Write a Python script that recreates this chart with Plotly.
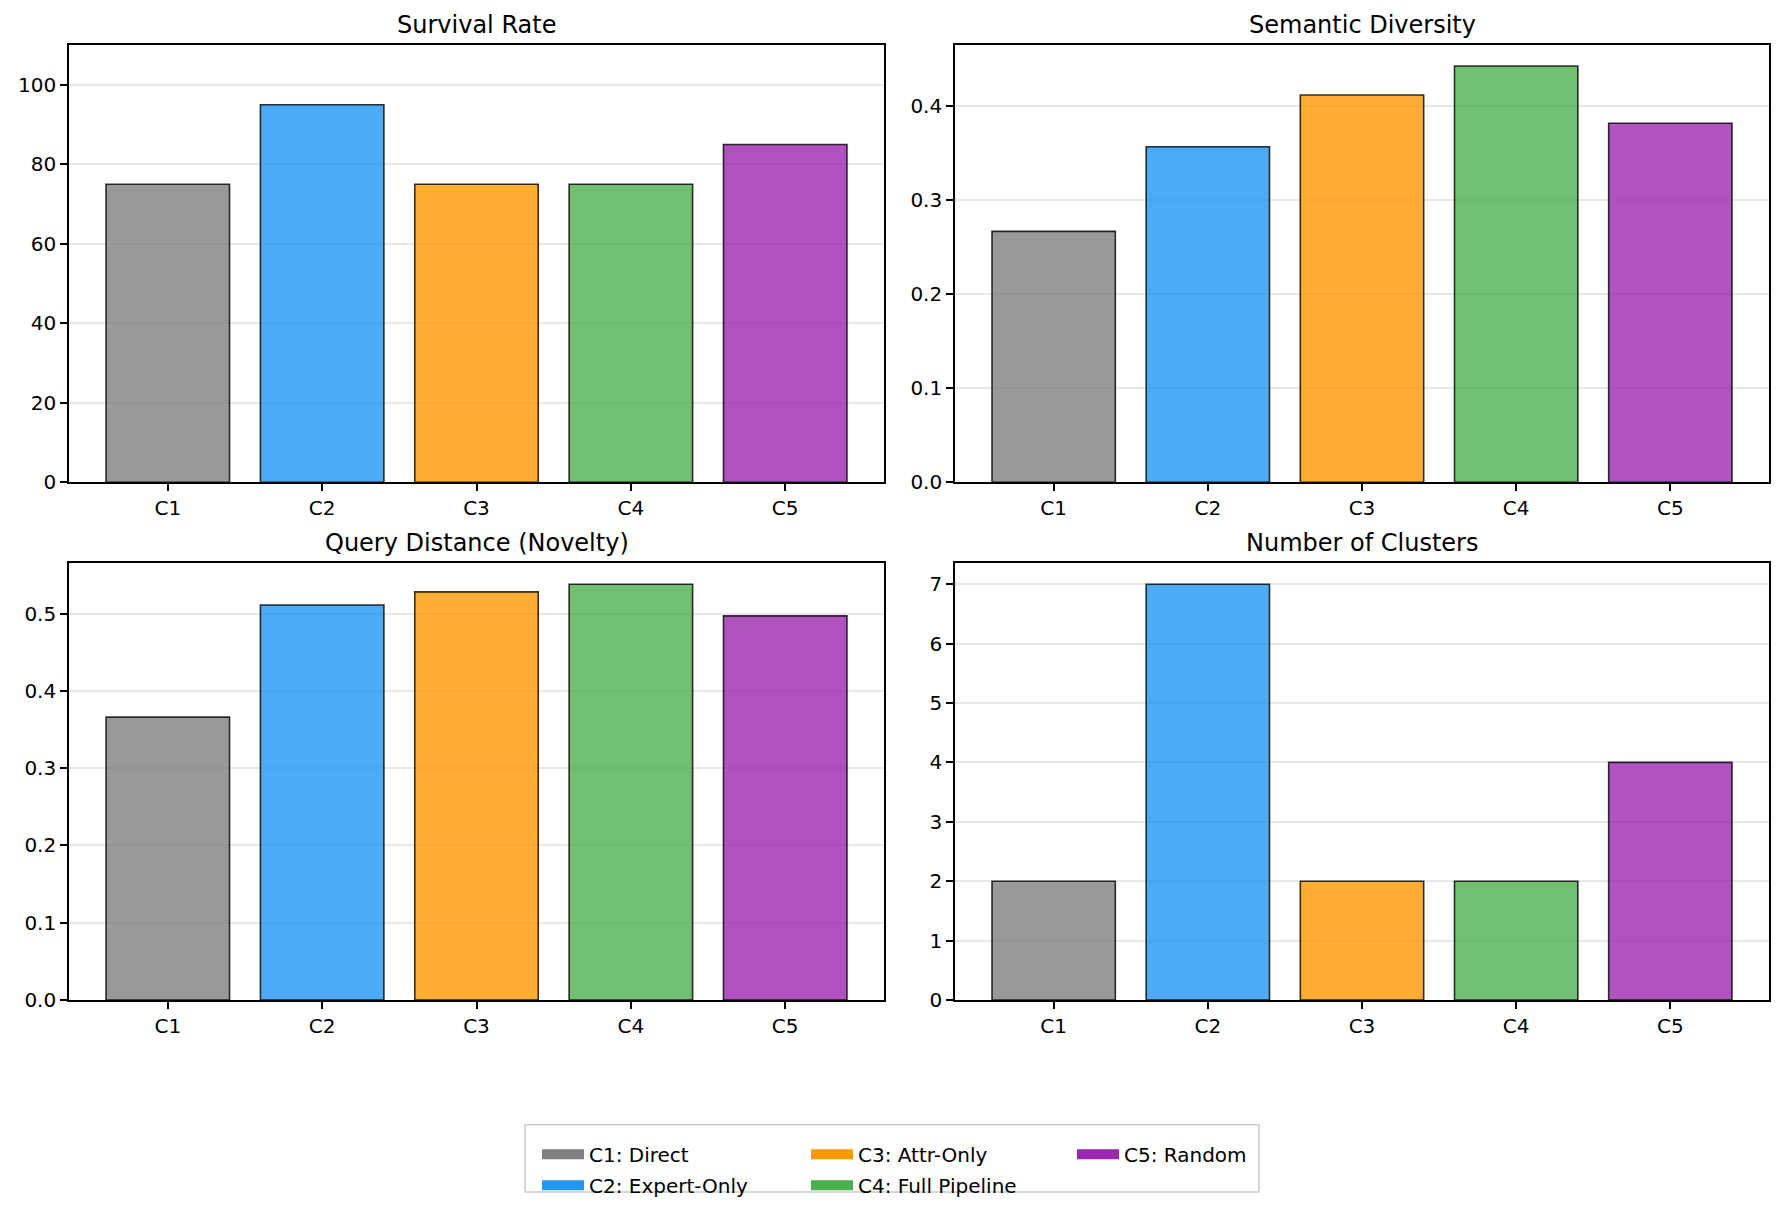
import plotly.graph_objects as go

categories = ["C1", "C2", "C3", "C4", "C5"]
legend_names = ["C1: Direct", "C2: Expert-Only", "C3: Attr-Only", "C4: Full Pipeline", "C5: Random"]
base_colors = ["#808080", "#2196F3", "#FF9800", "#4CAF50", "#9C27B0"]

survival_rate = [75, 95, 75, 75, 85]
semantic_diversity = [0.267, 0.357, 0.412, 0.443, 0.382]
query_distance = [0.366, 0.511, 0.528, 0.538, 0.497]
num_clusters = [2, 7, 2, 2, 4]

panels = [
    ("Survival Rate", survival_rate, [0, 110], [0, 20, 40, 60, 80, 100], None),
    ("Semantic Diversity", semantic_diversity, None, [0, 0.1, 0.2, 0.3, 0.4], ".1f"),
    ("Query Distance (Novelty)", query_distance, None, [0, 0.1, 0.2, 0.3, 0.4, 0.5], ".1f"),
    ("Number of Clusters", num_clusters, None, [0, 1, 2, 3, 4, 5, 6, 7], None),
]

OFF = 8  # page body margin
W, H = 1785 - 2 * OFF, 1219 - 2 * OFF


def px(x):
    return (x - OFF) / W


def py(y):
    return 1 - (y - OFF) / H


xdoms = [[px(69), px(884)], [px(955), px(1769)]]
ydoms = [[py(487), py(45.5)], [py(1010), py(569)]]


def rgba(hexc, a):
    h = hexc.lstrip("#")
    r, g, b = int(h[0:2], 16), int(h[2:4], 16), int(h[4:6], 16)
    return f"rgba({r},{g},{b},{a})"


fig = go.Figure()
layout = {}
annotations = []
font = "DejaVu Sans, Arial, sans-serif"

for i, (title, vals, yr, yt, fmt) in enumerate(panels):
    n = i + 1
    xa = "x" if n == 1 else f"x{n}"
    ya = "y" if n == 1 else f"y{n}"
    for c, v, col in zip(categories, vals, base_colors):
        fig.add_trace(go.Bar(
            x=[c], y=[v], width=0.8, xaxis=xa, yaxis=ya, showlegend=False,
            marker=dict(color=rgba(col, 0.8), line=dict(color="rgba(0,0,0,0.8)", width=1.6)),
        ))
    row, colidx = divmod(i, 2)
    xd, yd = xdoms[colidx], ydoms[row]
    if yr is None:
        yr = [0, max(vals) * 1.05]
    axis_common = dict(
        showline=True, linecolor="black", linewidth=1.6, mirror=True,
        ticks="outside", ticklen=7, tickwidth=1.6, tickcolor="black",
        tickfont=dict(size=20, color="black", family=font),
        zeroline=False, layer="above traces",
    )
    layout["xaxis" if n == 1 else f"xaxis{n}"] = dict(
        domain=xd, anchor=ya, type="category", categoryorder="array", categoryarray=categories,
        range=[-0.64, 4.64], showgrid=False, **axis_common)
    layout["yaxis" if n == 1 else f"yaxis{n}"] = dict(
        domain=yd, anchor=xa, range=yr, tickvals=yt, tickformat=fmt,
        showgrid=True, gridcolor="rgba(176,176,176,0.3)", gridwidth=1.6, **axis_common)
    annotations.append(dict(
        text=title, xref="paper", yref="paper", x=(xd[0] + xd[1]) / 2, y=yd[1],
        xanchor="center", yanchor="bottom", yshift=4, showarrow=False,
        font=dict(size=24, color="black", family=font)))

# legend-only entries (full colour patches), split into three columns
legend_ids = ["legend", "legend", "legend2", "legend2", "legend3"]
for name, col, lid in zip(legend_names, base_colors, legend_ids):
    fig.add_trace(go.Scatter(
        x=[None], y=[None], name=name, xaxis="x", yaxis="y", legend=lid, mode="lines",
        legendgroup=name, line=dict(color=col, width=15), showlegend=True))

leg_common = dict(orientation="v", yanchor="top", xanchor="left", y=py(1146),
                  bgcolor="rgba(0,0,0,0)", borderwidth=0, tracegroupgap=2, itemwidth=42,
                  font=dict(size=20, color="black", family=font))
layout["legend"] = dict(x=px(593 - 56), **leg_common)
layout["legend2"] = dict(x=px(862 - 56), **leg_common)
layout["legend3"] = dict(x=px(1128 - 56), **leg_common)

fig.update_layout(
    width=W, height=H, margin=dict(l=0, r=0, t=0, b=0),
    paper_bgcolor="white", plot_bgcolor="white", barmode="overlay",
    annotations=annotations,
    shapes=[dict(type="rect", xref="paper", yref="paper",
                 x0=px(525), x1=px(1259), y0=py(1204), y1=py(1136),
                 line=dict(color="#cccccc", width=1.6), fillcolor="rgba(255,255,255,0.8)", layer="below")],
    **layout,
)

fig.write_html("out.html")
